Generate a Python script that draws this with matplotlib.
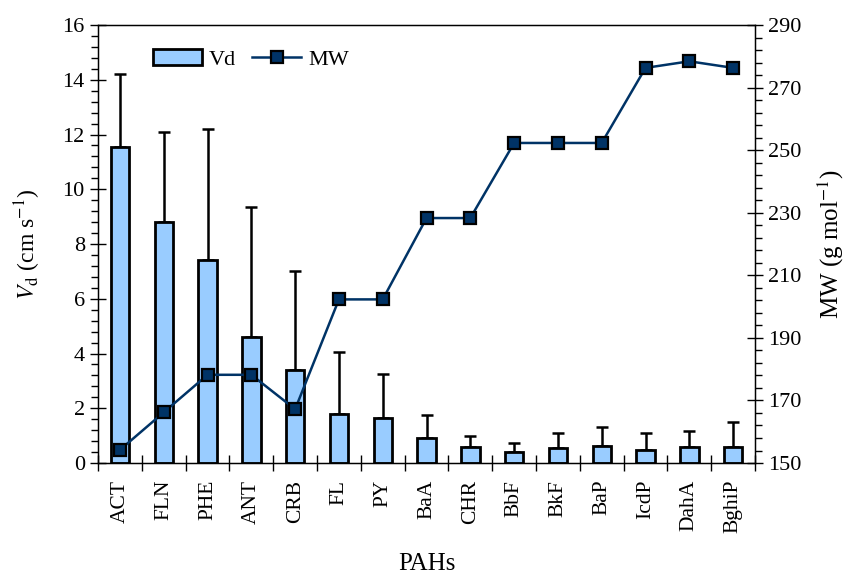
import numpy as np
import matplotlib
matplotlib.use("Agg")
import matplotlib.pyplot as plt
from matplotlib.ticker import MultipleLocator, FixedLocator, NullFormatter

plt.rcParams["font.family"] = ["Liberation Serif", "DejaVu Serif"]
plt.rcParams["mathtext.fontset"] = "stix"

pahs = ["ACT", "FLN", "PHE", "ANT", "CRB", "FL", "PY", "BaA", "CHR",
        "BbF", "BkF", "BaP", "IcdP", "DahA", "BghiP"]
vd = [11.55, 8.8, 7.4, 4.6, 3.4, 1.8, 1.65, 0.9, 0.6, 0.42, 0.55, 0.62, 0.46, 0.58, 0.58]
vd_sd = [2.65, 3.3, 4.8, 4.75, 3.6, 2.25, 1.6, 0.85, 0.4, 0.3, 0.53, 0.7, 0.64, 0.59, 0.92]
mw = [154.2, 166.2, 178.2, 178.2, 167.2, 202.3, 202.3, 228.3, 228.3,
      252.3, 252.3, 252.3, 276.3, 278.4, 276.3]

fig = plt.figure(figsize=(8.51, 5.79), dpi=100)
ax = fig.add_axes([0.1152, 0.2003, 0.7720, 0.7565])
x = np.arange(len(pahs))

ax.bar(x, vd, width=0.42, color="#99CCFF", edgecolor="black", linewidth=2.0,
       label="Vd", zorder=2)
ax.errorbar(x, vd, yerr=[np.zeros(len(vd)), vd_sd], fmt="none", ecolor="black",
            elinewidth=1.8, capsize=4.5, capthick=1.8, zorder=1)

ax.set_xlim(-0.5, len(pahs) - 0.5)
ax.set_ylim(0, 16)
ax.yaxis.set_major_locator(MultipleLocator(2))
ax.yaxis.set_minor_locator(MultipleLocator(0.4))
ax.set_xticks(x)
ax.set_xticklabels(pahs, rotation=90, fontsize=15.5)
ax.xaxis.set_minor_locator(FixedLocator(np.arange(-0.5, len(pahs), 1.0)))
ax.xaxis.set_minor_formatter(NullFormatter())
ax.tick_params(axis="x", which="major", length=0, pad=12)
ax.tick_params(axis="x", which="minor", direction="inout", length=12, width=1.0)
ax.tick_params(axis="y", which="major", direction="inout", length=12, width=1.0,
               labelsize=16)
ax.tick_params(axis="y", which="minor", direction="out", length=5, width=1.0)
ax.set_ylabel(r"$V_{\mathrm{d}}$ (cm s$^{\mathrm{-1}}$)", fontsize=17, labelpad=14)
ax.set_xlabel("PAHs", fontsize=18, labelpad=14)
for s in ax.spines.values():
    s.set_linewidth(1.0)

ax2 = ax.twinx()
ax2.plot(x, mw, color="#003366", linewidth=1.8, marker="s", markersize=8.5,
         markerfacecolor="#003366", markeredgecolor="black", markeredgewidth=1.6,
         label="MW", zorder=3)
ax2.set_ylim(150, 290)
ax2.yaxis.set_major_locator(FixedLocator(np.arange(150, 291, 20)))
ax2.yaxis.set_minor_locator(FixedLocator(np.arange(150, 291, 4)))
ax2.tick_params(axis="y", which="major", direction="inout", length=12, width=1.0,
                labelsize=16)
ax2.tick_params(axis="y", which="minor", direction="out", length=5, width=1.0)
ax2.set_ylabel(r"MW (g mol$^{\mathrm{-1}}$)", fontsize=18, labelpad=10)

h1, l1 = ax.get_legend_handles_labels()
h2, l2 = ax2.get_legend_handles_labels()
leg = ax2.legend(h1 + h2, l1 + l2, loc="upper left", bbox_to_anchor=(0.06, 0.98),
                 ncol=2, frameon=False, fontsize=16, handlelength=2.2,
                 columnspacing=0.75, handletextpad=0.3, borderpad=0.2)

fig.savefig("out.png", dpi=100)
